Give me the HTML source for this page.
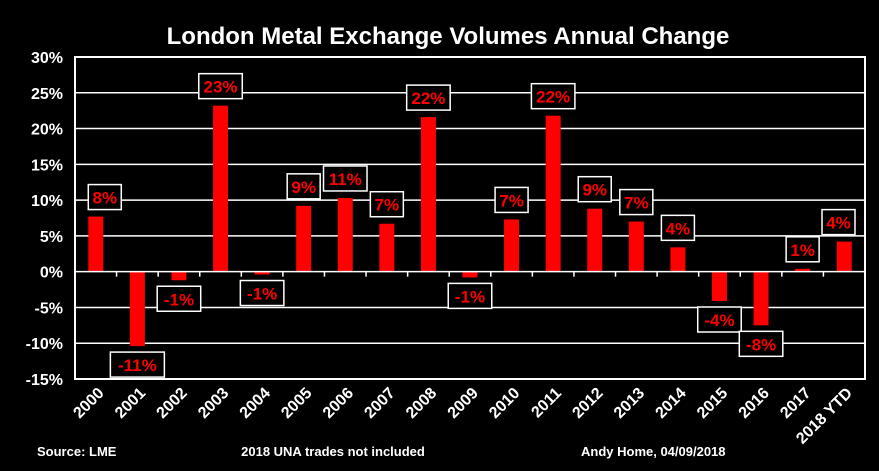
<!DOCTYPE html>
<html><head><meta charset="utf-8"><style>
html,body{margin:0;padding:0;background:#000;}
svg{display:block;font-family:"Liberation Sans",Arial,sans-serif;}
</style></head><body>
<svg id="chart" width="879" height="471" viewBox="0 0 879 471">
<rect x="0" y="0" width="879" height="471" fill="#000"/>
<text x="448" y="44" text-anchor="middle" fill="#fff" font-size="24" font-weight="bold">London Metal Exchange Volumes Annual Change</text>
<g id="grid"></g><g id="bars"></g><g id="labels"></g><g id="axes"></g>
<text x="37" y="456" fill="#fff" font-size="13" font-weight="bold">Source: LME</text>
<text x="333" y="456" text-anchor="middle" fill="#fff" font-size="13" font-weight="bold">2018 UNA trades not included</text>
<text x="581" y="456" fill="#fff" font-size="13" font-weight="bold">Andy Home, 04/09/2018</text>
</svg>
<script>
const categories = ["2000","2001","2002","2003","2004","2005","2006","2007","2008","2009","2010","2011","2012","2013","2014","2015","2016","2017","2018 YTD"];
const values = [7.7,-10.4,-1.2,23.2,-0.4,9.2,10.3,6.7,21.6,-0.8,7.3,21.8,8.8,7.0,3.4,-4.1,-7.5,0.4,4.2];
const valueLabels = ["8%","-11%","-1%","23%","-1%","9%","11%","7%","22%","-1%","7%","22%","9%","7%","4%","-4%","-8%","1%","4%"];
const yTicks = [30,25,20,15,10,5,0,-5,-10,-15];
const yTickLabels = ["30%","25%","20%","15%","10%","5%","0%","-5%","-10%","-15%"];

const NS="http://www.w3.org/2000/svg";
const L=75,R=865,T=57,B=379,yMax=30,yMin=-15;
const y=v=>T+(yMax-v)/(yMax-yMin)*(B-T);
const band=(R-L)/categories.length;
const xc=i=>L+band*(i+0.5);
function mk(tag,attrs,parent){const e=document.createElementNS(NS,tag);for(const k in attrs)e.setAttribute(k,attrs[k]);parent.appendChild(e);return e;}
const grid=document.getElementById('grid'),bars=document.getElementById('bars'),labels=document.getElementById('labels'),axes=document.getElementById('axes');
yTicks.forEach((t,i)=>{
  if(t!==yMax&&t!==yMin&&t!==0){const g=mk('line',{x1:L,x2:R,y1:y(t),y2:y(t),stroke:'#fff','stroke-width':1.5},grid);
  
  }
  const tx=mk('text',{x:L-12,y:y(t)+6,'text-anchor':'end',fill:'#fff','font-size':16,'font-weight':'bold'},axes);
  tx.textContent=yTickLabels[i];
  
  
});
const frame=mk('rect',{x:L,y:T,width:R-L,height:B-T,fill:'none',stroke:'#fff','stroke-width':2},axes);


const zl=mk('line',{x1:L,x2:R,y1:y(0),y2:y(0),stroke:'#fff','stroke-width':1.5},axes);


for(let i=1;i<categories.length;i++){const tk=mk('line',{x1:L+band*i,x2:L+band*i,y1:y(0),y2:y(0)+5,stroke:'#fff','stroke-width':1.5},axes);
  
  }
const bw=15;
categories.forEach((c,i)=>{
  const v=values[i];
  const b=mk('rect',{x:xc(i)-bw/2,y:Math.min(y(v),y(0)),width:bw,height:Math.max(Math.abs(y(v)-y(0)),1.5),fill:'#ff0000'},bars);
  
  
  const txt=valueLabels[i];const w=txt.length*10.5+12,h=25;
  let cx=xc(i);if(i===0)cx+=9;if(i===categories.length-1)cx=Math.min(cx,R-w/2-10);
  const by=v>=0?y(v)-7-h:y(v)+6;
  const g=mk('g',{},labels);
  
  
  mk('rect',{x:cx-w/2,y:by,width:w,height:h,fill:'#000',stroke:'#fff','stroke-width':1.5},g);
  const t=mk('text',{x:cx,y:by+19,'text-anchor':'middle',fill:'#ff0000','font-size':17,'font-weight':'bold'},g);
  t.textContent=txt;
  const xl=mk('text',{x:0,y:0,'text-anchor':'end',fill:'#fff','font-size':16,'font-weight':'bold',transform:`translate(${xc(i)+9},${B+15}) rotate(-45)`},axes);
  xl.textContent=c;
  
  
});
</script>
</body></html>
